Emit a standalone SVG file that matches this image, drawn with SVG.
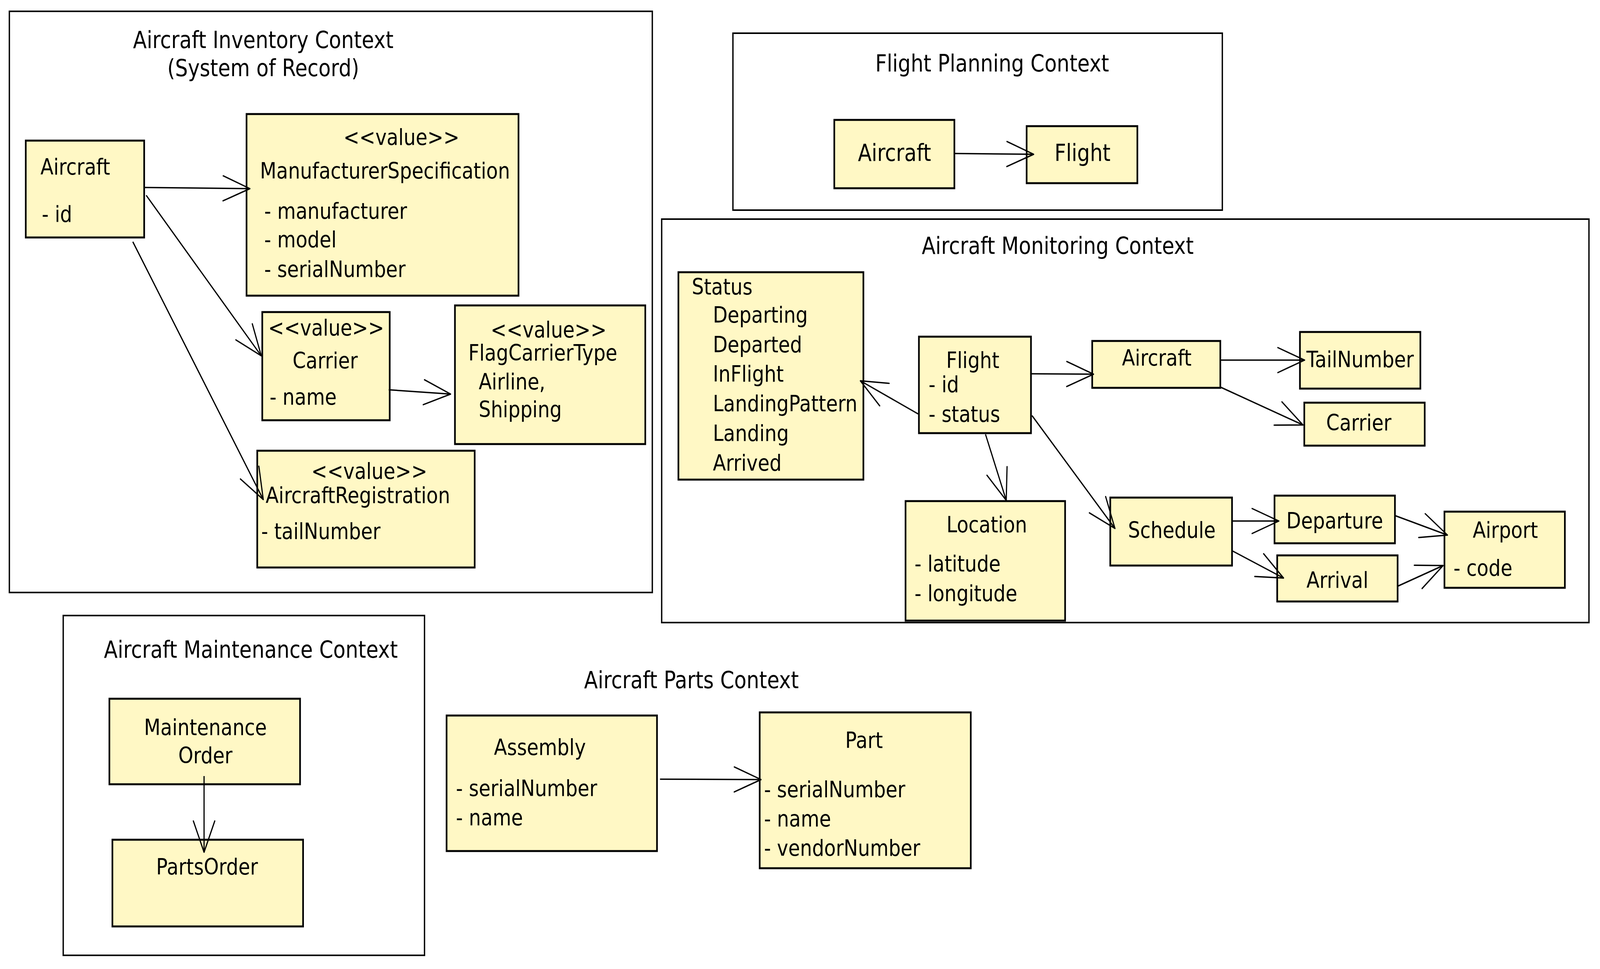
<svg xmlns="http://www.w3.org/2000/svg" width="4783" height="2481" viewBox="0 0 4783 2481" preserveAspectRatio="none" style="width:100vw;height:100vh;display:block">
<defs>
<style>
.frame{fill:none;stroke:#000;stroke-width:4}
.node{fill:#fff8c5;stroke:#000;stroke-width:5}
.t{font-family:"DejaVu Sans","Liberation Sans",sans-serif;font-size:57px;fill:#000}
.title{font-size:60px;text-anchor:middle}
.c{text-anchor:middle}
.edge{fill:none;stroke:#000;stroke-width:3.5;marker-end:url(#arr)}
</style>
<marker id="arr" viewBox="-90 -40 100 80" refX="0" refY="0" markerWidth="100" markerHeight="80" orient="auto" markerUnits="userSpaceOnUse">
<path d="M-80,-32 L0,0 L-80,32" fill="none" stroke="#000" stroke-width="3.5" stroke-linecap="round" stroke-linejoin="round"/>
</marker>
</defs>
<rect width="4783" height="2481" fill="#fff"/>

<!-- Aircraft Inventory Context -->
<g id="ctx-inventory">
<rect class="frame" x="28" y="29" width="1922" height="1488"/>
<text class="t title" x="787" y="123">Aircraft Inventory Context</text>
<text class="t title" x="787" y="195">(System of Record)</text>
</g>
<g id="inv-aircraft">
<rect class="node" x="77" y="360" width="354" height="248"/>
<text class="t" x="121" y="447">Aircraft</text>
<text class="t" x="125" y="568">- id</text>
</g>
<g id="inv-manufacturer-spec">
<rect class="node" x="737" y="292" width="813" height="465"/>
<text class="t c" x="1200" y="371">&lt;&lt;value&gt;&gt;</text>
<text class="t" x="777" y="457">ManufacturerSpecification</text>
<text class="t" x="790" y="560">- manufacturer</text>
<text class="t" x="790" y="633">- model</text>
<text class="t" x="790" y="709">- serialNumber</text>
</g>
<g id="inv-carrier">
<rect class="node" x="784" y="799" width="381" height="277"/>
<text class="t c" x="975" y="859">&lt;&lt;value&gt;&gt;</text>
<text class="t c" x="972" y="943">Carrier</text>
<text class="t" x="806" y="1036">- name</text>
</g>
<g id="inv-flag-carrier-type">
<rect class="node" x="1360" y="782" width="569" height="355"/>
<text class="t c" x="1640" y="864">&lt;&lt;value&gt;&gt;</text>
<text class="t" x="1400" y="923">FlagCarrierType</text>
<text class="t" x="1431" y="997">Airline,</text>
<text class="t" x="1431" y="1068">Shipping</text>
</g>
<g id="inv-aircraft-registration">
<rect class="node" x="769" y="1154" width="650" height="299"/>
<text class="t c" x="1104" y="1226">&lt;&lt;value&gt;&gt;</text>
<text class="t" x="794" y="1288">AircraftRegistration</text>
<text class="t" x="781" y="1380">- tailNumber</text>
</g>

<!-- Flight Planning Context -->
<g id="ctx-planning">
<rect class="frame" x="2191" y="85" width="1463" height="453"/>
<text class="t title" x="2966" y="183">Flight Planning Context</text>
</g>
<g id="plan-aircraft">
<rect class="node" x="2494" y="307" width="359" height="175"/>
<text class="t c" style="font-size:60px" x="2674" y="412">Aircraft</text>
</g>
<g id="plan-flight">
<rect class="node" x="3069" y="323" width="331" height="146"/>
<text class="t c" style="font-size:60px" x="3236" y="412">Flight</text>
</g>

<!-- Aircraft Monitoring Context -->
<g id="ctx-monitoring">
<rect class="frame" x="1978" y="561" width="2772" height="1033"/>
<text class="t title" x="3162" y="650">Aircraft Monitoring Context</text>
</g>
<g id="mon-status">
<rect class="node" x="2028" y="697" width="553" height="531"/>
<text class="t" x="2068" y="754">Status</text>
<text class="t" x="2131" y="826">Departing</text>
<text class="t" x="2131" y="902">Departed</text>
<text class="t" x="2131" y="977">InFlight</text>
<text class="t" x="2131" y="1053" textLength="432" lengthAdjust="spacingAndGlyphs">LandingPattern</text>
<text class="t" x="2131" y="1129">Landing</text>
<text class="t" x="2131" y="1205">Arrived</text>
</g>
<g id="mon-flight">
<rect class="node" x="2747" y="862" width="335" height="247"/>
<text class="t c" x="2908" y="942">Flight</text>
<text class="t" x="2776" y="1004">- id</text>
<text class="t" x="2776" y="1080">- status</text>
</g>
<g id="mon-aircraft">
<rect class="node" x="3265" y="873" width="383" height="120"/>
<text class="t c" x="3458" y="936">Aircraft</text>
</g>
<g id="mon-tailnumber">
<rect class="node" x="3886" y="850" width="360" height="145"/>
<text class="t c" x="4066" y="940">TailNumber</text>
</g>
<g id="mon-carrier">
<rect class="node" x="3899" y="1031" width="360" height="110"/>
<text class="t c" x="4062" y="1102">Carrier</text>
</g>
<g id="mon-location">
<rect class="node" x="2707" y="1283" width="477" height="306"/>
<text class="t c" x="2950" y="1363">Location</text>
<text class="t" x="2734" y="1463">- latitude</text>
<text class="t" x="2734" y="1539">- longitude</text>
</g>
<g id="mon-schedule">
<rect class="node" x="3319" y="1274" width="364" height="174"/>
<text class="t c" x="3503" y="1377">Schedule</text>
</g>
<g id="mon-departure">
<rect class="node" x="3810" y="1269" width="360" height="122"/>
<text class="t c" x="3990" y="1353">Departure</text>
</g>
<g id="mon-arrival">
<rect class="node" x="3818" y="1422" width="360" height="118"/>
<text class="t c" x="3998" y="1505">Arrival</text>
</g>
<g id="mon-airport">
<rect class="node" x="4318" y="1310" width="360" height="195"/>
<text class="t c" x="4500" y="1377">Airport</text>
<text class="t" x="4345" y="1474">- code</text>
</g>

<!-- Aircraft Maintenance Context -->
<g id="ctx-maintenance">
<rect class="frame" x="189" y="1576" width="1080" height="870"/>
<text class="t title" x="750" y="1684">Aircraft Maintenance Context</text>
</g>
<g id="mnt-maintenance-order">
<rect class="node" x="327" y="1789" width="570" height="219"/>
<text class="t c" x="614" y="1882">Maintenance</text>
<text class="t c" x="614" y="1954">Order</text>
</g>
<g id="mnt-parts-order">
<rect class="node" x="336" y="2150" width="570" height="222"/>
<text class="t c" x="619" y="2239">PartsOrder</text>
</g>

<!-- Aircraft Parts Context -->
<g id="ctx-parts">
<text class="t title" x="2067" y="1762">Aircraft Parts Context</text>
</g>
<g id="parts-assembly">
<rect class="node" x="1335" y="1832" width="629" height="347"/>
<text class="t c" x="1614" y="1933">Assembly</text>
<text class="t" x="1363" y="2038">- serialNumber</text>
<text class="t" x="1363" y="2113">- name</text>
</g>
<g id="parts-part">
<rect class="node" x="2271" y="1824" width="631" height="399"/>
<text class="t c" x="2583" y="1915">Part</text>
<text class="t" x="2284" y="2041">- serialNumber</text>
<text class="t" x="2284" y="2116">- name</text>
<text class="t" x="2284" y="2191">- vendorNumber</text>
</g>

<g id="connectors">
<path class="edge" d="M431,480 L747,483"/>
<path class="edge" d="M437,500 L781,911"/>
<path class="edge" d="M397,619 L787,1279"/>
<path class="edge" d="M1162,998 L1347,1009"/>
<path class="edge" d="M2853,393 L3090,395"/>
<path class="edge" d="M2745,1060 L2572,975"/>
<path class="edge" d="M3080,957 L3269,958"/>
<path class="edge" d="M3648,922 L3900,922"/>
<path class="edge" d="M3648,991 L3895,1088"/>
<path class="edge" d="M2946,1112 L3008,1281"/>
<path class="edge" d="M3085,1064 L3333,1353"/>
<path class="edge" d="M3683,1334 L3823,1334"/>
<path class="edge" d="M3683,1410 L3837,1480"/>
<path class="edge" d="M4170,1320 L4327,1370"/>
<path class="edge" d="M4178,1501 L4314,1448"/>
<path class="edge" d="M610,1987 L610,2182"/>
<path class="edge" d="M1973,1995 L2275,1996"/>
</g>
</svg>
